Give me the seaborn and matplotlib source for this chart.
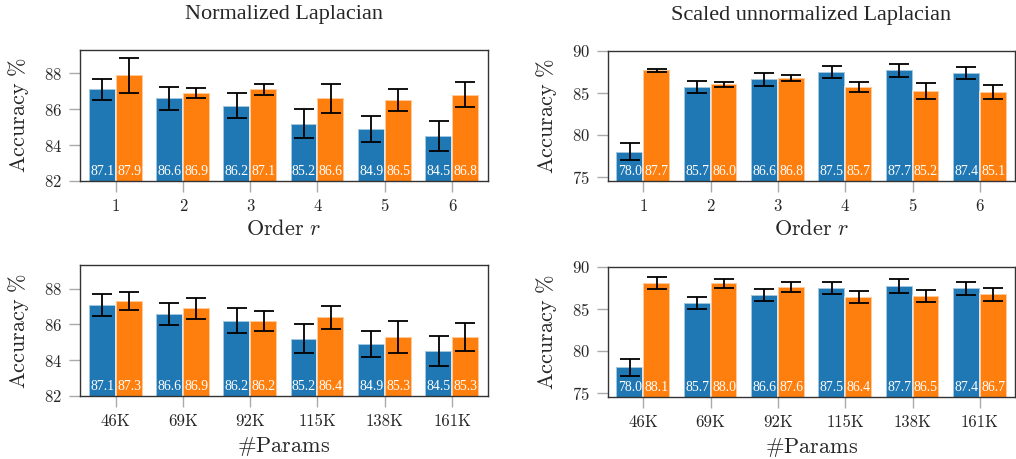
import pandas as pd
import matplotlib.pyplot as plt
import seaborn as sns

orders = ['1', '2', '3', '4', '5', '6']
params = ['46K', '69K', '92K', '115K', '138K', '161K']

# normalized laplacian, by order r
norm_order_blue = [87.1, 86.6, 86.2, 85.2, 84.9, 84.5]
norm_order_blue_err = [0.6, 0.62, 0.7, 0.82, 0.74, 0.84]
norm_order_orange = [87.9, 86.9, 87.1, 86.6, 86.5, 86.8]
norm_order_orange_err = [0.98, 0.28, 0.3, 0.8, 0.62, 0.7]

# scaled unnormalized laplacian, by order r
scal_order_blue = [78.0, 85.7, 86.6, 87.5, 87.7, 87.4]
scal_order_blue_err = [1.0, 0.72, 0.75, 0.72, 0.8, 0.73]
scal_order_orange = [87.7, 86.0, 86.8, 85.7, 85.2, 85.1]
scal_order_orange_err = [0.16, 0.32, 0.36, 0.6, 0.95, 0.82]

# normalized laplacian, by #params
norm_par_blue = [87.1, 86.6, 86.2, 85.2, 84.9, 84.5]
norm_par_blue_err = [0.6, 0.62, 0.7, 0.82, 0.74, 0.84]
norm_par_orange = [87.3, 86.9, 86.2, 86.4, 85.3, 85.3]
norm_par_orange_err = [0.5, 0.57, 0.54, 0.63, 0.87, 0.76]

# scaled unnormalized laplacian, by #params
scal_par_blue = [78.0, 85.7, 86.6, 87.5, 87.7, 87.4]
scal_par_blue_err = [1.0, 0.72, 0.75, 0.72, 0.8, 0.73]
scal_par_orange = [88.1, 88.0, 87.6, 86.4, 86.5, 86.7]
scal_par_orange_err = [0.72, 0.56, 0.58, 0.75, 0.75, 0.8]

colors = ['#1f77b4', '#ff7f0e']

sns.set_style('white')
plt.rcParams['font.family'] = ['Liberation Serif', 'DejaVu Serif']
plt.rcParams['mathtext.fontset'] = 'cm'
plt.rcParams['axes.formatter.use_mathtext'] = True

fig = plt.figure(figsize=(10.16, 4.59), dpi=100)
ax_tl = fig.add_axes([0.0787, 0.606, 0.4013, 0.285])
ax_tr = fig.add_axes([0.598, 0.606, 0.4015, 0.283])
ax_bl = fig.add_axes([0.0787, 0.1373, 0.4013, 0.2843])
ax_br = fig.add_axes([0.598, 0.1357, 0.4015, 0.2833])

panels = [
    (ax_tl, orders, norm_order_blue, norm_order_blue_err, norm_order_orange, norm_order_orange_err,
     (82, 89.3), [82, 84, 86, 88], r'$\mathrm{Order}\ r$', 'Normalized Laplacian'),
    (ax_tr, orders, scal_order_blue, scal_order_blue_err, scal_order_orange, scal_order_orange_err,
     (74.5, 90), [75, 80, 85, 90], r'$\mathrm{Order}\ r$', 'Scaled unnormalized Laplacian'),
    (ax_bl, params, norm_par_blue, norm_par_blue_err, norm_par_orange, norm_par_orange_err,
     (82, 89.3), [82, 84, 86, 88], r'$\#\mathrm{Params}$', None),
    (ax_br, params, scal_par_blue, scal_par_blue_err, scal_par_orange, scal_par_orange_err,
     (74.5, 90), [75, 80, 85, 90], r'$\#\mathrm{Params}$', None),
]

for ax, cats, blue, blue_err, orange, orange_err, ylim, yticks, xlabel, title in panels:
    df = pd.DataFrame({
        'cat': cats + cats,
        'acc': blue + orange,
        'series': ['a'] * len(cats) + ['b'] * len(cats),
    })
    sns.barplot(data=df, x='cat', y='acc', hue='series', order=cats, palette=colors,
                width=0.8, errorbar=None, legend=False, edgecolor=(1, 1, 1, 0.6),
                linewidth=1.4, saturation=1, ax=ax)

    for container, vals, errs in zip(ax.containers, [blue, orange], [blue_err, orange_err]):
        xs = [p.get_x() + p.get_width() / 2 for p in container.patches]
        ax.errorbar(xs, vals, yerr=errs, fmt='none', ecolor='black', elinewidth=1.3,
                    capsize=7, capthick=1.3, zorder=5)
        for x, v in zip(xs, vals):
            ax.annotate(f'{v:.1f}', (x, ylim[0]), xytext=(0, 4), textcoords='offset points',
                        ha='center', va='baseline', color='white', fontsize=10,
                        family='Liberation Serif', zorder=6)

    ax.set_ylim(*ylim)
    ax.set_xlim(-0.53, len(cats) - 0.47)
    ax.set_yticks(yticks)
    ax.set_ylabel(r'$\mathrm{Accuracy\ \%}$', fontsize=16, labelpad=9)
    ax.set_xlabel(xlabel, fontsize=16, labelpad=4)
    ax.tick_params(axis='both', length=8, width=1, color='#aaaaaa', pad=5, direction='out',
                   bottom=True, left=True, labelsize=12, labelfontfamily='cmr10')
    for s in ax.spines.values():
        s.set_color('#333333')
        s.set_linewidth(1)
    if title:
        ax.set_title(title, fontsize=16, pad=22)

fig.savefig('out.png', dpi=100)
